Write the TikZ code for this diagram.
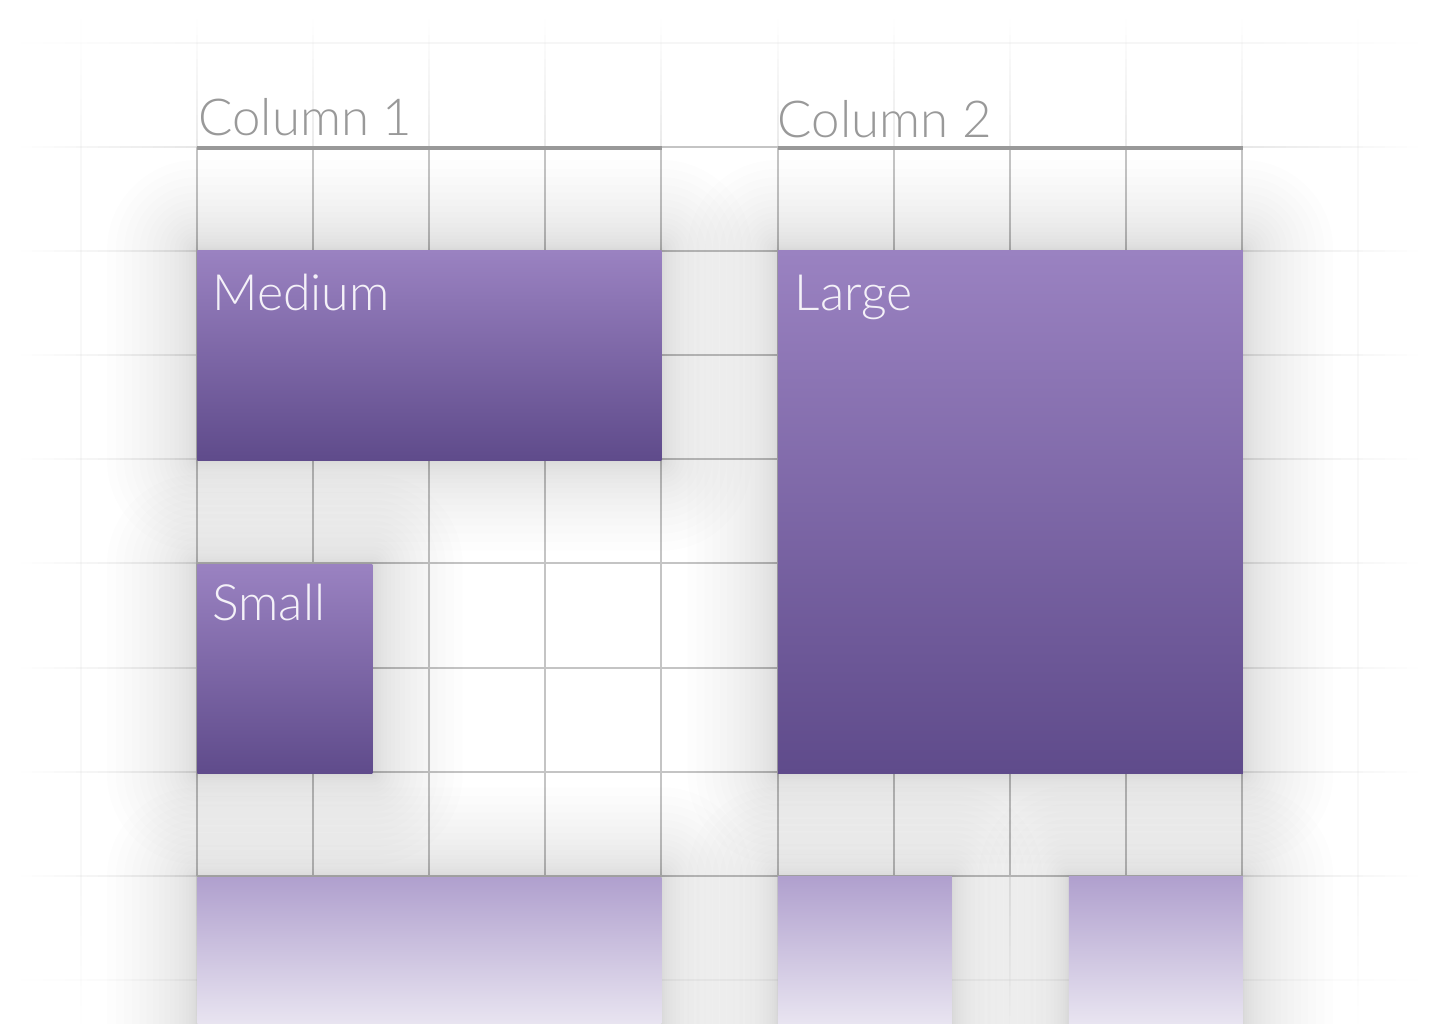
\documentclass[tikz,border=0pt]{standalone}
\usepackage{fontspec}
\setmainfont{Lato Light}
\usetikzlibrary{positioning,calc}
\definecolor{boxtop}{HTML}{9A82C1}
\definecolor{boxbot}{HTML}{5F4B8B}
\definecolor{fadetop}{HTML}{B0A0CE}
\definecolor{fadebot}{HTML}{E9E5F1}
\definecolor{gridc}{HTML}{C4C4C4}
\definecolor{headc}{HTML}{999999}
\definecolor{lblc}{HTML}{F4F1F8}
\pgfdeclarelayer{shadow}
\pgfdeclarelayer{grid}
\pgfsetlayers{grid,shadow,main}

\begin{document}
\begin{tikzpicture}[
  x=0.02cm, y=-0.02cm,
  box/.style={rectangle, anchor=north west, inner sep=0pt, draw=none,
              top color=boxtop, bottom color=boxbot},
  fbox/.style={box, top color=fadetop, bottom color=fadebot},
  lbl/.style={inner sep=0pt, text=lblc, font=\fontsize{28.5}{32}\selectfont},
  head/.style={inner sep=0pt, text=headc, font=\fontsize{29}{33}\selectfont},
  rule/.style={draw=headc, line width=0.08cm},
  gridline/.style={draw=gridc, line width=0.04cm},
  halo/.style={fill=black, fill opacity=0.0075, draw=none}
]
\useasboundingbox (0,0) rectangle (1440,1024);

% boxes
\node[box, minimum width=9.28cm, minimum height=4.2cm] (med) at (197,250) {};
\node[box, minimum width=9.3cm, minimum height=10.46cm,
      right=2.32cm of med.north east, anchor=north west] (lrg) {};
\node[box, minimum width=3.5cm, minimum height=4.18cm,
      below=2.08cm of med.south west, anchor=north west] (sml) {};
\node[fbox, minimum width=9.28cm, minimum height=2.96cm,
      below=2.06cm of sml.south west, anchor=north west] (fb1) {};
\node[fbox, minimum width=3.48cm, minimum height=2.96cm,
      below=2.06cm of lrg.south west, anchor=north west] (fb2) {};
\node[fbox, minimum width=3.48cm, minimum height=2.96cm,
      below=2.06cm of lrg.south east, anchor=north east] (fb3) {};

% labels
\node[lbl, anchor=base west] (medtxt) at ($(med.north west)+(15,60)$) {Medium};
\node[lbl, anchor=base west] (lrgtxt) at ($(lrg.north west)+(17,60)$) {Large};
\node[lbl, anchor=base west] (smltxt) at ($(sml.north west)+(15,56)$) {Small};

% column headers
\node[head, anchor=base west] (col1) at ($(med.north west)+(1,-115)$) {Column 1};
\node[head, anchor=base west] (col2) at ($(lrg.north west)+(0,-113)$) {Column 2};
\draw[rule] ($(med.north west)+(0,-102)$) -- ($(med.north east)+(0,-102)$);
\draw[rule] ($(lrg.north west)+(0,-102)$) -- ($(lrg.north east)+(0,-102)$);

% grid, fading out beyond the columns
\begin{pgfonlayer}{grid}
\fill[white] (0,0) rectangle (1440,1024);
\foreach \i in {-1,...,10} {
  \pgfmathsetmacro{\gx}{197+116.1*\i}
  \pgfmathsetmacro{\dx}{max(0,max(197-\gx,\gx-1242))}
  \pgfmathsetmacro{\ox}{\dx>1 ? 0.35*max(0,1-\dx/170) : 1}
  \draw[gridline, opacity=\ox] (\gx,147) -- (\gx,876);
  \foreach \s in {0,...,15} {
    \pgfmathsetmacro{\os}{min(\ox,0.35)*(1-(\s+0.5)/16)}
    \draw[gridline, opacity=\os] (\gx,147-8*\s) -- (\gx,139-8*\s);
    \draw[gridline, opacity=\os] (\gx,876+10*\s) -- (\gx,886+10*\s);
  }
}
\foreach \j in {-1,...,8} {
  \pgfmathsetmacro{\gy}{147+104.1*\j}
  \pgfmathsetmacro{\dy}{max(0,max(147-\gy,\gy-876))}
  \pgfmathsetmacro{\oy}{\dy>1 ? 0.35*max(0,1-\dy/170) : 1}
  \draw[gridline, opacity=\oy] (197,\gy) -- (1242,\gy);
  \foreach \s in {0,...,15} {
    \pgfmathsetmacro{\os}{min(\oy,0.4)*(1-(\s+0.5)/16)}
    \draw[gridline, opacity=\os] (197-11*\s,\gy) -- (186-11*\s,\gy);
    \draw[gridline, opacity=\os] (1242+11*\s,\gy) -- (1253+11*\s,\gy);
  }
}
\end{pgfonlayer}

% soft shadows behind the boxes
\begin{pgfonlayer}{shadow}
\foreach \b in {med,lrg,sml,fb1,fb2,fb3} {
  \foreach \k in {1,...,20} {
    \pgfmathsetmacro{\rr}{1.8*(\k/20)^2}
    \fill[halo, rounded corners=\rr cm]
      ([xshift=-\rr cm, yshift=\rr cm]\b.north west)
      rectangle ([xshift=\rr cm, yshift=-\rr cm]\b.south east);
  }
}
\end{pgfonlayer}
\end{tikzpicture}
\end{document}
